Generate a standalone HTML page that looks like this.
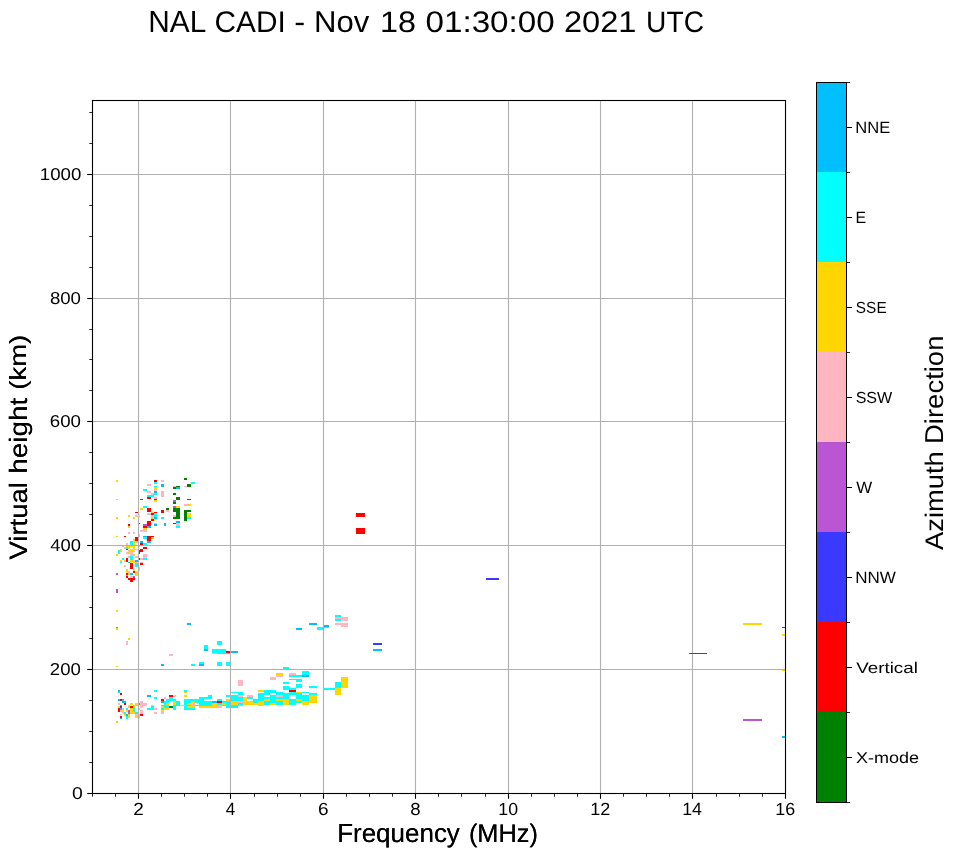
<!DOCTYPE html>
<html><head><meta charset="utf-8"><style>
html,body{margin:0;padding:0;background:#fff;}
svg{display:block;}
text{font-family:"Liberation Sans",sans-serif;fill:#000;text-rendering:geometricPrecision;}
svg{will-change:transform;}
.tk{font-size:16px;}
</style></head><body>
<svg width="958" height="857" viewBox="0 0 958 857" shape-rendering="crispEdges">
<rect width="958" height="857" fill="#fff"/>
<text transform="translate(148.27,32.37) scale(0.9775,1.0031)" font-size="30.5">NAL</text>
<text transform="translate(214.56,32.10) scale(0.9777,0.9767)" font-size="30.5">CADI</text>
<text transform="translate(294.33,32.17) scale(1.0797,0.9936)" font-size="30.5">-</text>
<text transform="translate(314.03,31.98) scale(1.0199,0.9879)" font-size="30.5">Nov</text>
<text transform="translate(379.90,31.64) scale(1.0603,0.9701)" font-size="30.5">18</text>
<text transform="translate(425.47,31.95) scale(1.0889,0.9760)" font-size="30.5">01:30:00</text>
<text transform="translate(563.91,31.78) scale(1.0685,0.9790)" font-size="30.5">2021</text>
<text transform="translate(646.11,32.10) scale(0.9242,0.9720)" font-size="30.5">UTC</text>
<g shape-rendering="auto">
<line x1="138.50" y1="100.5" x2="138.50" y2="793.5" stroke="#b0b0b0" stroke-width="1.1"/>
<line x1="230.50" y1="100.5" x2="230.50" y2="793.5" stroke="#b0b0b0" stroke-width="1.1"/>
<line x1="323.50" y1="100.5" x2="323.50" y2="793.5" stroke="#b0b0b0" stroke-width="1.1"/>
<line x1="415.50" y1="100.5" x2="415.50" y2="793.5" stroke="#b0b0b0" stroke-width="1.1"/>
<line x1="508.50" y1="100.5" x2="508.50" y2="793.5" stroke="#b0b0b0" stroke-width="1.1"/>
<line x1="600.50" y1="100.5" x2="600.50" y2="793.5" stroke="#b0b0b0" stroke-width="1.1"/>
<line x1="692.50" y1="100.5" x2="692.50" y2="793.5" stroke="#b0b0b0" stroke-width="1.1"/>
<line x1="92.5" y1="669.50" x2="785.5" y2="669.50" stroke="#b0b0b0" stroke-width="1.1"/>
<line x1="92.5" y1="545.50" x2="785.5" y2="545.50" stroke="#b0b0b0" stroke-width="1.1"/>
<line x1="92.5" y1="421.50" x2="785.5" y2="421.50" stroke="#b0b0b0" stroke-width="1.1"/>
<line x1="92.5" y1="298.50" x2="785.5" y2="298.50" stroke="#b0b0b0" stroke-width="1.1"/>
<line x1="92.5" y1="174.50" x2="785.5" y2="174.50" stroke="#b0b0b0" stroke-width="1.1"/>
</g>
<g>
<rect x="116" y="480" width="2" height="2" fill="#FFD700"/>
<rect x="116" y="499" width="2" height="1" fill="#FFD700"/>
<rect x="116" y="517" width="2" height="2" fill="#FFD700"/>
<rect x="147" y="484" width="4" height="2" fill="#FFB6C1"/>
<rect x="143" y="489" width="4" height="2" fill="#00FFFF"/>
<rect x="147" y="491" width="4" height="2" fill="#FFB6C1"/>
<rect x="151" y="493" width="3" height="2" fill="#FFB6C1"/>
<rect x="147" y="495" width="7" height="2" fill="#00FFFF"/>
<rect x="147" y="497" width="4" height="2" fill="#FF0000"/>
<rect x="140" y="499" width="3" height="1" fill="#FF0000"/>
<rect x="143" y="506" width="4" height="2" fill="#00FFFF"/>
<rect x="140" y="508" width="3" height="2" fill="#FFD700"/>
<rect x="147" y="508" width="4" height="4" fill="#FF0000"/>
<rect x="135" y="512" width="3" height="1" fill="#FF0000"/>
<rect x="147" y="513" width="4" height="2" fill="#FFB6C1"/>
<rect x="128" y="515" width="2" height="2" fill="#FFD700"/>
<rect x="135" y="515" width="5" height="2" fill="#FFB6C1"/>
<rect x="133" y="517" width="2" height="2" fill="#FFD700"/>
<rect x="150" y="491" width="1" height="2" fill="#FFB6C1"/>
<rect x="150" y="497" width="1" height="2" fill="#FF0000"/>
<rect x="150" y="508" width="1" height="4" fill="#FF0000"/>
<rect x="151" y="512" width="3" height="1" fill="#FFD700"/>
<rect x="151" y="513" width="3" height="2" fill="#FF0000"/>
<rect x="151" y="515" width="3" height="2" fill="#FFB6C1"/>
<rect x="151" y="517" width="3" height="2" fill="#FFD700"/>
<rect x="151" y="519" width="3" height="1" fill="#FF0000"/>
<rect x="154" y="480" width="3" height="2" fill="#FF0000"/>
<rect x="154" y="482" width="3" height="2" fill="#00FFFF"/>
<rect x="154" y="486" width="3" height="1" fill="#00FFFF"/>
<rect x="154" y="487" width="3" height="2" fill="#FFD700"/>
<rect x="154" y="489" width="3" height="2" fill="#FFB6C1"/>
<rect x="154" y="491" width="3" height="2" fill="#00BFFF"/>
<rect x="154" y="493" width="3" height="2" fill="#00FFFF"/>
<rect x="154" y="497" width="3" height="2" fill="#FFB6C1"/>
<rect x="154" y="499" width="3" height="1" fill="#FF0000"/>
<rect x="154" y="500" width="3" height="2" fill="#FFD700"/>
<rect x="154" y="512" width="3" height="1" fill="#FF0000"/>
<rect x="154" y="513" width="3" height="4" fill="#00FFFF"/>
<rect x="154" y="517" width="3" height="2" fill="#00BFFF"/>
<rect x="154" y="519" width="3" height="1" fill="#FFD700"/>
<rect x="161" y="480" width="3" height="2" fill="#FFB6C1"/>
<rect x="161" y="484" width="3" height="3" fill="#00BFFF"/>
<rect x="161" y="491" width="3" height="6" fill="#FFB6C1"/>
<rect x="161" y="510" width="3" height="3" fill="#FF0000"/>
<rect x="161" y="517" width="3" height="2" fill="#00FFFF"/>
<rect x="166" y="508" width="3" height="2" fill="#008000"/>
<rect x="166" y="510" width="3" height="2" fill="#FFB6C1"/>
<rect x="173" y="486" width="3" height="1" fill="#FFB6C1"/>
<rect x="173" y="487" width="3" height="2" fill="#008000"/>
<rect x="173" y="493" width="3" height="2" fill="#008000"/>
<rect x="173" y="500" width="3" height="2" fill="#BA55D3"/>
<rect x="173" y="502" width="3" height="2" fill="#008000"/>
<rect x="173" y="506" width="3" height="2" fill="#BA55D3"/>
<rect x="173" y="508" width="3" height="4" fill="#008000"/>
<rect x="173" y="515" width="3" height="2" fill="#FFB6C1"/>
<rect x="173" y="517" width="3" height="2" fill="#008000"/>
<rect x="176" y="486" width="4" height="1" fill="#008000"/>
<rect x="176" y="487" width="4" height="2" fill="#00BFFF"/>
<rect x="176" y="497" width="4" height="3" fill="#008000"/>
<rect x="176" y="506" width="4" height="2" fill="#FFD700"/>
<rect x="176" y="508" width="4" height="11" fill="#008000"/>
<rect x="184" y="478" width="3" height="2" fill="#008000"/>
<rect x="184" y="486" width="3" height="1" fill="#FFB6C1"/>
<rect x="184" y="504" width="3" height="2" fill="#FFB6C1"/>
<rect x="184" y="510" width="3" height="11" fill="#008000"/>
<rect x="187" y="484" width="4" height="3" fill="#008000"/>
<rect x="187" y="499" width="4" height="1" fill="#008000"/>
<rect x="187" y="504" width="4" height="2" fill="#FFD700"/>
<rect x="187" y="510" width="4" height="2" fill="#008000"/>
<rect x="187" y="513" width="4" height="4" fill="#FFD700"/>
<rect x="187" y="517" width="4" height="2" fill="#00FFFF"/>
<rect x="191" y="482" width="4" height="2" fill="#00FFFF"/>
<rect x="128" y="524" width="2" height="2" fill="#FF0000"/>
<rect x="128" y="526" width="2" height="2" fill="#FFD700"/>
<rect x="128" y="532" width="2" height="2" fill="#FFB6C1"/>
<rect x="116" y="536" width="2" height="1" fill="#FFD700"/>
<rect x="133" y="532" width="2" height="2" fill="#FFB6C1"/>
<rect x="124" y="536" width="2" height="1" fill="#FF0000"/>
<rect x="135" y="537" width="3" height="4" fill="#FF0000"/>
<rect x="135" y="541" width="3" height="2" fill="#FFB6C1"/>
<rect x="133" y="539" width="2" height="6" fill="#FFD700"/>
<rect x="130" y="541" width="3" height="4" fill="#00FFFF"/>
<rect x="126" y="543" width="2" height="2" fill="#FFB6C1"/>
<rect x="124" y="547" width="2" height="2" fill="#FFB6C1"/>
<rect x="122" y="546" width="2" height="1" fill="#FFB6C1"/>
<rect x="126" y="546" width="9" height="1" fill="#FFD700"/>
<rect x="126" y="547" width="2" height="2" fill="#00FFFF"/>
<rect x="128" y="547" width="2" height="2" fill="#FFD700"/>
<rect x="130" y="546" width="3" height="1" fill="#FFD700"/>
<rect x="133" y="546" width="2" height="3" fill="#FFD700"/>
<rect x="126" y="549" width="2" height="1" fill="#FF0000"/>
<rect x="128" y="550" width="2" height="2" fill="#FFB6C1"/>
<rect x="130" y="550" width="3" height="2" fill="#FFD700"/>
<rect x="133" y="550" width="2" height="2" fill="#FFB6C1"/>
<rect x="126" y="552" width="2" height="2" fill="#FFB6C1"/>
<rect x="128" y="552" width="2" height="2" fill="#FFD700"/>
<rect x="130" y="552" width="3" height="4" fill="#FFB6C1"/>
<rect x="133" y="554" width="2" height="2" fill="#FFD700"/>
<rect x="118" y="550" width="2" height="4" fill="#00FFFF"/>
<rect x="120" y="549" width="2" height="3" fill="#FFD700"/>
<rect x="116" y="554" width="2" height="2" fill="#FFD700"/>
<rect x="128" y="556" width="2" height="2" fill="#FFB6C1"/>
<rect x="130" y="556" width="3" height="4" fill="#00FFFF"/>
<rect x="135" y="556" width="3" height="2" fill="#FFB6C1"/>
<rect x="126" y="558" width="2" height="4" fill="#FF0000"/>
<rect x="122" y="558" width="2" height="2" fill="#00FFFF"/>
<rect x="124" y="560" width="2" height="2" fill="#FFD700"/>
<rect x="120" y="560" width="2" height="2" fill="#FFD700"/>
<rect x="120" y="562" width="2" height="1" fill="#00FFFF"/>
<rect x="128" y="562" width="2" height="1" fill="#00BFFF"/>
<rect x="130" y="560" width="3" height="3" fill="#FFD700"/>
<rect x="133" y="560" width="2" height="2" fill="#FFB6C1"/>
<rect x="135" y="560" width="3" height="2" fill="#00BFFF"/>
<rect x="135" y="563" width="3" height="4" fill="#00FFFF"/>
<rect x="130" y="563" width="3" height="6" fill="#FF0000"/>
<rect x="139" y="523" width="1" height="1" fill="#FF0000"/>
<rect x="139" y="534" width="1" height="2" fill="#FFB6C1"/>
<rect x="139" y="536" width="1" height="1" fill="#FFD700"/>
<rect x="139" y="546" width="1" height="1" fill="#FFD700"/>
<rect x="140" y="549" width="3" height="3" fill="#FF0000"/>
<rect x="139" y="550" width="1" height="4" fill="#FF0000"/>
<rect x="130" y="549" width="8" height="1" fill="#FFB6C1"/>
<rect x="139" y="558" width="1" height="2" fill="#FF0000"/>
<rect x="140" y="530" width="7" height="2" fill="#FFB6C1"/>
<rect x="140" y="541" width="3" height="2" fill="#00BFFF"/>
<rect x="140" y="543" width="3" height="2" fill="#FF0000"/>
<rect x="140" y="563" width="3" height="2" fill="#FF0000"/>
<rect x="140" y="558" width="3" height="2" fill="#FFB6C1"/>
<rect x="143" y="524" width="4" height="2" fill="#BA55D3"/>
<rect x="143" y="526" width="4" height="2" fill="#FF0000"/>
<rect x="143" y="528" width="4" height="2" fill="#FFD700"/>
<rect x="143" y="536" width="4" height="1" fill="#00BFFF"/>
<rect x="143" y="537" width="4" height="2" fill="#00FFFF"/>
<rect x="143" y="543" width="4" height="2" fill="#00FFFF"/>
<rect x="143" y="547" width="4" height="2" fill="#FF0000"/>
<rect x="143" y="554" width="4" height="4" fill="#FFB6C1"/>
<rect x="143" y="558" width="4" height="2" fill="#00FFFF"/>
<rect x="147" y="521" width="4" height="5" fill="#FF0000"/>
<rect x="147" y="526" width="4" height="2" fill="#00BFFF"/>
<rect x="147" y="536" width="4" height="5" fill="#FF0000"/>
<rect x="147" y="541" width="4" height="2" fill="#00BFFF"/>
<rect x="151" y="519" width="3" height="2" fill="#FF0000"/>
<rect x="151" y="536" width="3" height="1" fill="#FF0000"/>
<rect x="151" y="537" width="3" height="2" fill="#FFD700"/>
<rect x="154" y="519" width="1" height="2" fill="#FFD700"/>
<rect x="154" y="524" width="1" height="2" fill="#00BFFF"/>
<rect x="154" y="523" width="3" height="1" fill="#FFD700"/>
<rect x="154" y="524" width="3" height="2" fill="#00BFFF"/>
<rect x="164" y="523" width="2" height="3" fill="#00BFFF"/>
<rect x="173" y="523" width="3" height="1" fill="#008000"/>
<rect x="176" y="521" width="4" height="2" fill="#00BFFF"/>
<rect x="176" y="523" width="4" height="3" fill="#FFB6C1"/>
<rect x="176" y="526" width="4" height="2" fill="#00FFFF"/>
<rect x="124" y="565" width="2" height="2" fill="#FFB6C1"/>
<rect x="126" y="569" width="2" height="4" fill="#FFD700"/>
<rect x="126" y="573" width="2" height="2" fill="#FF0000"/>
<rect x="126" y="575" width="2" height="1" fill="#00FFFF"/>
<rect x="126" y="576" width="2" height="2" fill="#FF0000"/>
<rect x="128" y="571" width="2" height="2" fill="#FFB6C1"/>
<rect x="128" y="573" width="2" height="2" fill="#FFD700"/>
<rect x="128" y="578" width="2" height="2" fill="#FF0000"/>
<rect x="130" y="573" width="3" height="2" fill="#00BFFF"/>
<rect x="130" y="576" width="3" height="2" fill="#FFB6C1"/>
<rect x="130" y="578" width="3" height="4" fill="#FF0000"/>
<rect x="133" y="562" width="2" height="1" fill="#FFD700"/>
<rect x="133" y="569" width="2" height="2" fill="#FFD700"/>
<rect x="133" y="571" width="2" height="2" fill="#FF0000"/>
<rect x="133" y="576" width="2" height="2" fill="#BA55D3"/>
<rect x="133" y="578" width="2" height="2" fill="#FF0000"/>
<rect x="135" y="562" width="3" height="1" fill="#FFB6C1"/>
<rect x="135" y="571" width="3" height="4" fill="#FFD700"/>
<rect x="135" y="575" width="3" height="1" fill="#FFB6C1"/>
<rect x="139" y="567" width="1" height="2" fill="#FFD700"/>
<rect x="139" y="569" width="1" height="2" fill="#FFB6C1"/>
<rect x="140" y="562" width="3" height="1" fill="#FFB6C1"/>
<rect x="116" y="573" width="2" height="2" fill="#BA55D3"/>
<rect x="116" y="589" width="2" height="4" fill="#BA55D3"/>
<rect x="118" y="690" width="2" height="2" fill="#00BFFF"/>
<rect x="118" y="692" width="2" height="1" fill="#00FFFF"/>
<rect x="118" y="699" width="2" height="2" fill="#00BFFF"/>
<rect x="118" y="703" width="2" height="2" fill="#FFB6C1"/>
<rect x="118" y="706" width="2" height="2" fill="#FFD700"/>
<rect x="118" y="708" width="2" height="4" fill="#FF0000"/>
<rect x="120" y="693" width="2" height="2" fill="#FF0000"/>
<rect x="120" y="699" width="2" height="2" fill="#FF0000"/>
<rect x="120" y="705" width="2" height="1" fill="#00BFFF"/>
<rect x="120" y="706" width="2" height="2" fill="#3A3AFF"/>
<rect x="120" y="708" width="2" height="2" fill="#00BFFF"/>
<rect x="120" y="710" width="2" height="2" fill="#FFB6C1"/>
<rect x="120" y="714" width="2" height="1" fill="#FFB6C1"/>
<rect x="120" y="716" width="2" height="2" fill="#FF0000"/>
<rect x="120" y="718" width="2" height="1" fill="#00BFFF"/>
<rect x="122" y="699" width="2" height="4" fill="#00BFFF"/>
<rect x="122" y="708" width="2" height="2" fill="#FFB6C1"/>
<rect x="122" y="710" width="2" height="2" fill="#FFD700"/>
<rect x="122" y="712" width="2" height="2" fill="#FFB6C1"/>
<rect x="124" y="701" width="2" height="2" fill="#00BFFF"/>
<rect x="124" y="703" width="2" height="2" fill="#FF0000"/>
<rect x="124" y="712" width="2" height="2" fill="#00FFFF"/>
<rect x="124" y="714" width="2" height="2" fill="#FFD700"/>
<rect x="126" y="708" width="2" height="2" fill="#00FFFF"/>
<rect x="126" y="710" width="2" height="2" fill="#FFD700"/>
<rect x="126" y="714" width="2" height="2" fill="#00BFFF"/>
<rect x="126" y="716" width="2" height="3" fill="#00FFFF"/>
<rect x="128" y="705" width="2" height="3" fill="#FFD700"/>
<rect x="128" y="710" width="2" height="4" fill="#BA55D3"/>
<rect x="128" y="714" width="2" height="4" fill="#FFD700"/>
<rect x="130" y="703" width="3" height="2" fill="#FFD700"/>
<rect x="130" y="706" width="3" height="2" fill="#FF0000"/>
<rect x="130" y="708" width="3" height="6" fill="#FFD700"/>
<rect x="133" y="705" width="2" height="3" fill="#FFD700"/>
<rect x="133" y="708" width="2" height="4" fill="#00FFFF"/>
<rect x="133" y="712" width="2" height="2" fill="#FFD700"/>
<rect x="135" y="703" width="3" height="3" fill="#FFD700"/>
<rect x="135" y="712" width="3" height="2" fill="#00FFFF"/>
<rect x="135" y="714" width="3" height="2" fill="#FFB6C1"/>
<rect x="135" y="716" width="3" height="2" fill="#FFD700"/>
<rect x="139" y="703" width="1" height="2" fill="#00BFFF"/>
<rect x="139" y="708" width="1" height="2" fill="#FFB6C1"/>
<rect x="139" y="714" width="1" height="5" fill="#FFD700"/>
<rect x="140" y="701" width="3" height="7" fill="#FFB6C1"/>
<rect x="140" y="710" width="3" height="4" fill="#FFB6C1"/>
<rect x="140" y="714" width="3" height="2" fill="#FF0000"/>
<rect x="143" y="703" width="4" height="3" fill="#FFB6C1"/>
<rect x="147" y="695" width="4" height="2" fill="#00BFFF"/>
<rect x="147" y="708" width="4" height="2" fill="#00FFFF"/>
<rect x="151" y="705" width="3" height="1" fill="#FFD700"/>
<rect x="151" y="706" width="3" height="4" fill="#00FFFF"/>
<rect x="116" y="721" width="2" height="2" fill="#FFD700"/>
<rect x="154" y="690" width="3" height="2" fill="#00FFFF"/>
<rect x="154" y="697" width="3" height="2" fill="#00FFFF"/>
<rect x="154" y="708" width="3" height="2" fill="#FFB6C1"/>
<rect x="154" y="712" width="3" height="2" fill="#FFB6C1"/>
<rect x="161" y="699" width="3" height="2" fill="#FF0000"/>
<rect x="161" y="701" width="3" height="2" fill="#00BFFF"/>
<rect x="161" y="705" width="3" height="1" fill="#00FFFF"/>
<rect x="161" y="706" width="3" height="2" fill="#FFD700"/>
<rect x="161" y="708" width="3" height="2" fill="#00FFFF"/>
<rect x="161" y="710" width="3" height="2" fill="#FFD700"/>
<rect x="161" y="712" width="3" height="2" fill="#FFB6C1"/>
<rect x="164" y="697" width="2" height="2" fill="#FFB6C1"/>
<rect x="164" y="701" width="2" height="7" fill="#00FFFF"/>
<rect x="164" y="708" width="2" height="2" fill="#FFD700"/>
<rect x="166" y="699" width="3" height="4" fill="#00FFFF"/>
<rect x="166" y="703" width="3" height="2" fill="#FFD700"/>
<rect x="166" y="705" width="3" height="3" fill="#00FFFF"/>
<rect x="166" y="708" width="3" height="2" fill="#FFD700"/>
<rect x="169" y="695" width="4" height="2" fill="#FF0000"/>
<rect x="169" y="697" width="4" height="4" fill="#00FFFF"/>
<rect x="169" y="706" width="4" height="2" fill="#008000"/>
<rect x="173" y="695" width="3" height="2" fill="#FFB6C1"/>
<rect x="173" y="699" width="3" height="2" fill="#00FFFF"/>
<rect x="173" y="701" width="3" height="4" fill="#FFD700"/>
<rect x="173" y="705" width="3" height="5" fill="#00FFFF"/>
<rect x="176" y="701" width="4" height="5" fill="#00FFFF"/>
<rect x="180" y="705" width="4" height="1" fill="#FFD700"/>
<rect x="184" y="690" width="3" height="2" fill="#00FFFF"/>
<rect x="184" y="692" width="3" height="1" fill="#FFD700"/>
<rect x="184" y="695" width="3" height="2" fill="#FFD700"/>
<rect x="184" y="699" width="3" height="11" fill="#00FFFF"/>
<rect x="184" y="705" width="3" height="1" fill="#FFD700"/>
<rect x="187" y="699" width="4" height="4" fill="#00FFFF"/>
<rect x="187" y="703" width="4" height="2" fill="#FFD700"/>
<rect x="187" y="705" width="4" height="1" fill="#00FFFF"/>
<rect x="187" y="706" width="4" height="2" fill="#FFD700"/>
<rect x="187" y="708" width="4" height="2" fill="#00FFFF"/>
<rect x="191" y="699" width="4" height="2" fill="#00FFFF"/>
<rect x="191" y="701" width="4" height="2" fill="#FFD700"/>
<rect x="191" y="703" width="4" height="2" fill="#FFB6C1"/>
<rect x="191" y="705" width="4" height="3" fill="#FFD700"/>
<rect x="191" y="708" width="4" height="2" fill="#00FFFF"/>
<rect x="195" y="699" width="4" height="4" fill="#00FFFF"/>
<rect x="195" y="705" width="4" height="1" fill="#00FFFF"/>
<rect x="199" y="697" width="2" height="9" fill="#00FFFF"/>
<rect x="199" y="706" width="2" height="2" fill="#FFD700"/>
<rect x="195" y="699" width="4" height="4" fill="#00FFFF"/>
<rect x="195" y="705" width="4" height="1" fill="#00FFFF"/>
<rect x="199" y="697" width="5" height="9" fill="#00FFFF"/>
<rect x="199" y="706" width="5" height="2" fill="#FFD700"/>
<rect x="204" y="697" width="4" height="2" fill="#00FFFF"/>
<rect x="204" y="701" width="4" height="5" fill="#00FFFF"/>
<rect x="204" y="706" width="4" height="2" fill="#FFD700"/>
<rect x="208" y="695" width="4" height="4" fill="#00FFFF"/>
<rect x="208" y="701" width="4" height="5" fill="#00FFFF"/>
<rect x="208" y="706" width="4" height="2" fill="#FFD700"/>
<rect x="212" y="701" width="5" height="2" fill="#00BFFF"/>
<rect x="212" y="703" width="5" height="5" fill="#FFD700"/>
<rect x="217" y="699" width="5" height="2" fill="#00FFFF"/>
<rect x="217" y="701" width="5" height="2" fill="#FF0000"/>
<rect x="217" y="703" width="5" height="2" fill="#00FFFF"/>
<rect x="217" y="705" width="5" height="1" fill="#FFD700"/>
<rect x="217" y="706" width="5" height="2" fill="#FFB6C1"/>
<rect x="222" y="701" width="4" height="2" fill="#00FFFF"/>
<rect x="222" y="703" width="4" height="2" fill="#FFD700"/>
<rect x="222" y="705" width="4" height="1" fill="#00FFFF"/>
<rect x="226" y="695" width="4" height="2" fill="#00FFFF"/>
<rect x="226" y="699" width="4" height="2" fill="#FFD700"/>
<rect x="226" y="701" width="4" height="7" fill="#00FFFF"/>
<rect x="231" y="692" width="7" height="1" fill="#00FFFF"/>
<rect x="231" y="695" width="7" height="6" fill="#00FFFF"/>
<rect x="231" y="701" width="7" height="4" fill="#FFD700"/>
<rect x="231" y="705" width="7" height="3" fill="#00FFFF"/>
<rect x="238" y="680" width="5" height="6" fill="#FFB6C1"/>
<rect x="238" y="692" width="5" height="3" fill="#00FFFF"/>
<rect x="238" y="695" width="5" height="2" fill="#FFB6C1"/>
<rect x="238" y="697" width="5" height="4" fill="#00FFFF"/>
<rect x="238" y="701" width="5" height="2" fill="#FFB6C1"/>
<rect x="238" y="703" width="5" height="2" fill="#00FFFF"/>
<rect x="238" y="705" width="5" height="1" fill="#FFD700"/>
<rect x="243" y="697" width="2" height="8" fill="#FFD700"/>
<rect x="243" y="697" width="4" height="8" fill="#FFD700"/>
<rect x="247" y="695" width="6" height="2" fill="#FFB6C1"/>
<rect x="247" y="697" width="6" height="2" fill="#00FFFF"/>
<rect x="247" y="701" width="6" height="4" fill="#FFD700"/>
<rect x="253" y="699" width="5" height="4" fill="#00FFFF"/>
<rect x="253" y="703" width="5" height="2" fill="#FFD700"/>
<rect x="258" y="690" width="6" height="2" fill="#FFD700"/>
<rect x="258" y="693" width="6" height="8" fill="#00FFFF"/>
<rect x="258" y="701" width="6" height="5" fill="#FFD700"/>
<rect x="264" y="690" width="6" height="5" fill="#00FFFF"/>
<rect x="264" y="697" width="6" height="2" fill="#00FFFF"/>
<rect x="264" y="699" width="6" height="2" fill="#FFD700"/>
<rect x="264" y="701" width="6" height="4" fill="#00FFFF"/>
<rect x="270" y="677" width="6" height="3" fill="#FFB6C1"/>
<rect x="270" y="690" width="6" height="3" fill="#00FFFF"/>
<rect x="270" y="695" width="6" height="8" fill="#00FFFF"/>
<rect x="270" y="703" width="6" height="2" fill="#FFD700"/>
<rect x="276" y="673" width="7" height="2" fill="#FFD700"/>
<rect x="276" y="675" width="7" height="2" fill="#FFB6C1"/>
<rect x="276" y="692" width="7" height="3" fill="#00FFFF"/>
<rect x="276" y="695" width="7" height="2" fill="#FFB6C1"/>
<rect x="276" y="697" width="7" height="2" fill="#00FFFF"/>
<rect x="276" y="699" width="7" height="2" fill="#FFD700"/>
<rect x="276" y="701" width="7" height="4" fill="#00FFFF"/>
<rect x="283" y="667" width="6" height="2" fill="#00FFFF"/>
<rect x="283" y="682" width="6" height="2" fill="#00FFFF"/>
<rect x="283" y="686" width="6" height="4" fill="#00FFFF"/>
<rect x="283" y="693" width="6" height="6" fill="#00FFFF"/>
<rect x="283" y="699" width="6" height="6" fill="#FFD700"/>
<rect x="289" y="673" width="7" height="2" fill="#FFB6C1"/>
<rect x="289" y="675" width="7" height="2" fill="#00FFFF"/>
<rect x="289" y="679" width="7" height="1" fill="#00FFFF"/>
<rect x="289" y="688" width="7" height="2" fill="#00FFFF"/>
<rect x="289" y="690" width="7" height="2" fill="#FF0000"/>
<rect x="289" y="692" width="7" height="3" fill="#00FFFF"/>
<rect x="289" y="699" width="7" height="6" fill="#00FFFF"/>
<rect x="296" y="675" width="6" height="2" fill="#00FFFF"/>
<rect x="296" y="679" width="6" height="3" fill="#00FFFF"/>
<rect x="296" y="684" width="6" height="4" fill="#00FFFF"/>
<rect x="296" y="692" width="6" height="1" fill="#FFD700"/>
<rect x="296" y="693" width="6" height="6" fill="#00FFFF"/>
<rect x="296" y="699" width="6" height="2" fill="#FFD700"/>
<rect x="296" y="701" width="6" height="2" fill="#00FFFF"/>
<rect x="302" y="671" width="7" height="4" fill="#00FFFF"/>
<rect x="302" y="675" width="7" height="2" fill="#00BFFF"/>
<rect x="302" y="692" width="7" height="1" fill="#00FFFF"/>
<rect x="302" y="695" width="7" height="6" fill="#00FFFF"/>
<rect x="302" y="701" width="7" height="4" fill="#FFD700"/>
<rect x="309" y="686" width="8" height="2" fill="#00FFFF"/>
<rect x="309" y="693" width="8" height="2" fill="#00FFFF"/>
<rect x="309" y="695" width="8" height="8" fill="#FFD700"/>
<rect x="324" y="688" width="11" height="2" fill="#00FFFF"/>
<rect x="335" y="682" width="6" height="6" fill="#00FFFF"/>
<rect x="335" y="688" width="6" height="7" fill="#FFD700"/>
<rect x="341" y="677" width="7" height="11" fill="#FFD700"/>
<rect x="217" y="641" width="5" height="4" fill="#00FFFF"/>
<rect x="204" y="645" width="4" height="4" fill="#00FFFF"/>
<rect x="204" y="649" width="4" height="2" fill="#00BFFF"/>
<rect x="212" y="649" width="14" height="4" fill="#00FFFF"/>
<rect x="217" y="653" width="13" height="1" fill="#00FFFF"/>
<rect x="212" y="653" width="5" height="1" fill="#FFB6C1"/>
<rect x="226" y="651" width="4" height="2" fill="#FF0000"/>
<rect x="231" y="651" width="7" height="2" fill="#00BFFF"/>
<rect x="199" y="662" width="5" height="2" fill="#00FFFF"/>
<rect x="199" y="664" width="5" height="2" fill="#00BFFF"/>
<rect x="217" y="662" width="5" height="4" fill="#00FFFF"/>
<rect x="226" y="662" width="4" height="4" fill="#00FFFF"/>
<rect x="116" y="610" width="2" height="2" fill="#FFD700"/>
<rect x="116" y="627" width="2" height="1" fill="#BA55D3"/>
<rect x="116" y="628" width="2" height="2" fill="#FFD700"/>
<rect x="128" y="638" width="2" height="2" fill="#FFD700"/>
<rect x="126" y="641" width="2" height="4" fill="#FFB6C1"/>
<rect x="116" y="666" width="2" height="1" fill="#FFD700"/>
<rect x="187" y="623" width="4" height="2" fill="#00BFFF"/>
<rect x="169" y="654" width="4" height="2" fill="#FFB6C1"/>
<rect x="161" y="664" width="3" height="2" fill="#00BFFF"/>
<rect x="191" y="664" width="4" height="2" fill="#00FFFF"/>
<rect x="296" y="628" width="6" height="2" fill="#00BFFF"/>
<rect x="309" y="623" width="8" height="2" fill="#00BFFF"/>
<rect x="317" y="627" width="6" height="3" fill="#00FFFF"/>
<rect x="324" y="625" width="5" height="2" fill="#00BFFF"/>
<rect x="324" y="627" width="5" height="1" fill="#00FFFF"/>
<rect x="335" y="615" width="6" height="2" fill="#00FFFF"/>
<rect x="335" y="617" width="13" height="2" fill="#FFB6C1"/>
<rect x="341" y="619" width="7" height="2" fill="#FFB6C1"/>
<rect x="335" y="619" width="6" height="2" fill="#00FFFF"/>
<rect x="335" y="623" width="13" height="2" fill="#FFB6C1"/>
<rect x="341" y="625" width="7" height="2" fill="#FFB6C1"/>
<rect x="356" y="513" width="9" height="4" fill="#FF0000"/>
<rect x="356" y="528" width="9" height="6" fill="#FF0000"/>
<rect x="373" y="643" width="9" height="2" fill="#3A3AFF"/>
<rect x="373" y="649" width="9" height="2" fill="#00BFFF"/>
<rect x="486" y="578" width="13" height="2" fill="#3A3AFF"/>
<rect x="689" y="653" width="18" height="1" fill="#FF0000"/>
<rect x="743" y="623" width="19" height="2" fill="#FFD700"/>
<rect x="782" y="627" width="3" height="1" fill="#FF0000"/>
<rect x="782" y="634" width="3" height="2" fill="#FFD700"/>
<rect x="782" y="670" width="3" height="1" fill="#FFD700"/>
<rect x="743" y="719" width="19" height="2" fill="#BA55D3"/>
<rect x="782" y="736" width="3" height="2" fill="#00BFFF"/>
</g>
<g shape-rendering="auto">
<rect x="92.5" y="100.5" width="693.00" height="693.00" fill="none" stroke="#000" stroke-width="1.1"/>
<line x1="138.50" y1="793.5" x2="138.50" y2="798.8" stroke="#000" stroke-width="1.1"/>
<line x1="230.50" y1="793.5" x2="230.50" y2="798.8" stroke="#000" stroke-width="1.1"/>
<line x1="323.50" y1="793.5" x2="323.50" y2="798.8" stroke="#000" stroke-width="1.1"/>
<line x1="415.50" y1="793.5" x2="415.50" y2="798.8" stroke="#000" stroke-width="1.1"/>
<line x1="508.50" y1="793.5" x2="508.50" y2="798.8" stroke="#000" stroke-width="1.1"/>
<line x1="600.50" y1="793.5" x2="600.50" y2="798.8" stroke="#000" stroke-width="1.1"/>
<line x1="692.50" y1="793.5" x2="692.50" y2="798.8" stroke="#000" stroke-width="1.1"/>
<line x1="785.50" y1="793.5" x2="785.50" y2="798.8" stroke="#000" stroke-width="1.1"/>
<line x1="92.50" y1="793.5" x2="92.50" y2="796.7" stroke="#000" stroke-width="0.85"/>
<line x1="115.50" y1="793.5" x2="115.50" y2="796.7" stroke="#000" stroke-width="0.85"/>
<line x1="161.50" y1="793.5" x2="161.50" y2="796.7" stroke="#000" stroke-width="0.85"/>
<line x1="184.50" y1="793.5" x2="184.50" y2="796.7" stroke="#000" stroke-width="0.85"/>
<line x1="207.50" y1="793.5" x2="207.50" y2="796.7" stroke="#000" stroke-width="0.85"/>
<line x1="254.50" y1="793.5" x2="254.50" y2="796.7" stroke="#000" stroke-width="0.85"/>
<line x1="277.50" y1="793.5" x2="277.50" y2="796.7" stroke="#000" stroke-width="0.85"/>
<line x1="300.50" y1="793.5" x2="300.50" y2="796.7" stroke="#000" stroke-width="0.85"/>
<line x1="346.50" y1="793.5" x2="346.50" y2="796.7" stroke="#000" stroke-width="0.85"/>
<line x1="369.50" y1="793.5" x2="369.50" y2="796.7" stroke="#000" stroke-width="0.85"/>
<line x1="392.50" y1="793.5" x2="392.50" y2="796.7" stroke="#000" stroke-width="0.85"/>
<line x1="438.50" y1="793.5" x2="438.50" y2="796.7" stroke="#000" stroke-width="0.85"/>
<line x1="461.50" y1="793.5" x2="461.50" y2="796.7" stroke="#000" stroke-width="0.85"/>
<line x1="485.50" y1="793.5" x2="485.50" y2="796.7" stroke="#000" stroke-width="0.85"/>
<line x1="531.50" y1="793.5" x2="531.50" y2="796.7" stroke="#000" stroke-width="0.85"/>
<line x1="554.50" y1="793.5" x2="554.50" y2="796.7" stroke="#000" stroke-width="0.85"/>
<line x1="577.50" y1="793.5" x2="577.50" y2="796.7" stroke="#000" stroke-width="0.85"/>
<line x1="623.50" y1="793.5" x2="623.50" y2="796.7" stroke="#000" stroke-width="0.85"/>
<line x1="646.50" y1="793.5" x2="646.50" y2="796.7" stroke="#000" stroke-width="0.85"/>
<line x1="669.50" y1="793.5" x2="669.50" y2="796.7" stroke="#000" stroke-width="0.85"/>
<line x1="716.50" y1="793.5" x2="716.50" y2="796.7" stroke="#000" stroke-width="0.85"/>
<line x1="739.50" y1="793.5" x2="739.50" y2="796.7" stroke="#000" stroke-width="0.85"/>
<line x1="762.50" y1="793.5" x2="762.50" y2="796.7" stroke="#000" stroke-width="0.85"/>
<line x1="87.2" y1="793.50" x2="92.5" y2="793.50" stroke="#000" stroke-width="1.1"/>
<line x1="87.2" y1="669.50" x2="92.5" y2="669.50" stroke="#000" stroke-width="1.1"/>
<line x1="87.2" y1="545.50" x2="92.5" y2="545.50" stroke="#000" stroke-width="1.1"/>
<line x1="87.2" y1="421.50" x2="92.5" y2="421.50" stroke="#000" stroke-width="1.1"/>
<line x1="87.2" y1="298.50" x2="92.5" y2="298.50" stroke="#000" stroke-width="1.1"/>
<line x1="87.2" y1="174.50" x2="92.5" y2="174.50" stroke="#000" stroke-width="1.1"/>
<line x1="89.3" y1="762.50" x2="92.5" y2="762.50" stroke="#000" stroke-width="0.85"/>
<line x1="89.3" y1="731.50" x2="92.5" y2="731.50" stroke="#000" stroke-width="0.85"/>
<line x1="89.3" y1="700.50" x2="92.5" y2="700.50" stroke="#000" stroke-width="0.85"/>
<line x1="89.3" y1="638.50" x2="92.5" y2="638.50" stroke="#000" stroke-width="0.85"/>
<line x1="89.3" y1="607.50" x2="92.5" y2="607.50" stroke="#000" stroke-width="0.85"/>
<line x1="89.3" y1="576.50" x2="92.5" y2="576.50" stroke="#000" stroke-width="0.85"/>
<line x1="89.3" y1="514.50" x2="92.5" y2="514.50" stroke="#000" stroke-width="0.85"/>
<line x1="89.3" y1="483.50" x2="92.5" y2="483.50" stroke="#000" stroke-width="0.85"/>
<line x1="89.3" y1="452.50" x2="92.5" y2="452.50" stroke="#000" stroke-width="0.85"/>
<line x1="89.3" y1="390.50" x2="92.5" y2="390.50" stroke="#000" stroke-width="0.85"/>
<line x1="89.3" y1="359.50" x2="92.5" y2="359.50" stroke="#000" stroke-width="0.85"/>
<line x1="89.3" y1="329.50" x2="92.5" y2="329.50" stroke="#000" stroke-width="0.85"/>
<line x1="89.3" y1="267.50" x2="92.5" y2="267.50" stroke="#000" stroke-width="0.85"/>
<line x1="89.3" y1="236.50" x2="92.5" y2="236.50" stroke="#000" stroke-width="0.85"/>
<line x1="89.3" y1="205.50" x2="92.5" y2="205.50" stroke="#000" stroke-width="0.85"/>
<line x1="89.3" y1="143.50" x2="92.5" y2="143.50" stroke="#000" stroke-width="0.85"/>
<line x1="89.3" y1="112.50" x2="92.5" y2="112.50" stroke="#000" stroke-width="0.85"/>
</g>
<text transform="translate(71.97,798.65) scale(1.1638,1.0360)" font-size="16.67">0</text>
<text transform="translate(49.83,674.50) scale(1.1151,1.0311)" font-size="16.67">200</text>
<text transform="translate(50.37,551.01) scale(1.1017,1.0287)" font-size="16.67">400</text>
<text transform="translate(49.75,426.60) scale(1.1223,1.0353)" font-size="16.67">600</text>
<text transform="translate(49.90,303.93) scale(1.1168,1.0370)" font-size="16.67">800</text>
<text transform="translate(39.74,180.04) scale(1.1214,1.0292)" font-size="16.67">1000</text>
<text transform="translate(133.13,815.00) scale(1.1382,1.0632)" font-size="16.67">2</text>
<text transform="translate(225.69,814.52) scale(1.0291,1.0634)" font-size="16.67">4</text>
<text transform="translate(318.10,814.56) scale(1.1394,1.0573)" font-size="16.67">6</text>
<text transform="translate(410.24,814.64) scale(1.1187,1.0500)" font-size="16.67">8</text>
<text transform="translate(498.35,815.24) scale(1.0633,1.0462)" font-size="16.67">10</text>
<text transform="translate(590.18,815.00) scale(1.0839,1.0637)" font-size="16.67">12</text>
<text transform="translate(682.19,815.00) scale(1.0666,1.0746)" font-size="16.67">14</text>
<text transform="translate(775.29,814.74) scale(1.0735,1.0472)" font-size="16.67">16</text>
<text transform="translate(855.30,132.73) scale(1.0467,1.0419)" font-size="15.8">NNE</text>
<text transform="translate(855.40,222.73) scale(1.0056,1.0419)" font-size="15.8">E</text>
<text transform="translate(855.87,312.54) scale(0.9732,1.0162)" font-size="15.8">SSE</text>
<text transform="translate(855.64,402.60) scale(1.0188,1.0149)" font-size="15.8">SSW</text>
<text transform="translate(856.26,493.04) scale(1.0674,1.0464)" font-size="15.8">W</text>
<text transform="translate(855.26,582.97) scale(1.0782,1.0433)" font-size="15.8">NNW</text>
<text transform="translate(856.25,672.79) scale(1.1899,0.9740)" font-size="15.8">Vertical</text>
<text transform="translate(855.94,763.07) scale(1.1412,0.9879)" font-size="15.8">X-mode</text>
<text transform="translate(337.16,842.15) scale(1.0387,1.0419)" font-size="25">Frequency</text>
<text transform="translate(468.89,841.91) scale(1.0164,1.0229)" font-size="25">(MHz)</text>
<text transform="translate(27.31,559.51) scale(1.0071,1.0973) rotate(-90)" font-size="25">Virtual</text>
<text transform="translate(27.33,473.72) scale(1.0062,1.1140) rotate(-90)" font-size="25">height</text>
<text transform="translate(25.94,389.67) scale(0.9376,1.0953) rotate(-90)" font-size="25">(km)</text>
<text transform="translate(337.16,842.15) scale(1.0387,1.0419)" font-size="25">Frequency</text>
<text transform="translate(468.89,841.91) scale(1.0164,1.0229)" font-size="25">(MHz)</text>
<text transform="translate(27.31,559.51) scale(1.0071,1.0973) rotate(-90)" font-size="25">Virtual</text>
<text transform="translate(27.33,473.72) scale(1.0062,1.1140) rotate(-90)" font-size="25">height</text>
<text transform="translate(25.94,389.67) scale(0.9376,1.0953) rotate(-90)" font-size="25">(km)</text>
<text transform="translate(942.90,549.94) scale(1.0162,1.0922) rotate(-90)" font-size="25">Azimuth</text>
<text transform="translate(942.53,443.96) scale(1.0343,1.0986) rotate(-90)" font-size="25">Direction</text>
<rect x="816.5" y="82.00" width="30.00" height="90.00" fill="#00BFFF"/>
<rect x="816.5" y="172.00" width="30.00" height="90.00" fill="#00FFFF"/>
<rect x="816.5" y="262.00" width="30.00" height="90.00" fill="#FFD700"/>
<rect x="816.5" y="352.00" width="30.00" height="90.00" fill="#FFB6C1"/>
<rect x="816.5" y="442.00" width="30.00" height="90.00" fill="#BA55D3"/>
<rect x="816.5" y="532.00" width="30.00" height="90.00" fill="#3A3AFF"/>
<rect x="816.5" y="622.00" width="30.00" height="90.00" fill="#FF0000"/>
<rect x="816.5" y="712.00" width="30.00" height="90.00" fill="#008000"/>
<rect x="816.5" y="82.5" width="30.00" height="720.00" fill="none" stroke="#000" stroke-width="1.1"/>
<line x1="846.5" y1="127.50" x2="851.8" y2="127.50" stroke="#000" stroke-width="1.1"/>
<line x1="846.5" y1="217.50" x2="851.8" y2="217.50" stroke="#000" stroke-width="1.1"/>
<line x1="846.5" y1="307.50" x2="851.8" y2="307.50" stroke="#000" stroke-width="1.1"/>
<line x1="846.5" y1="397.50" x2="851.8" y2="397.50" stroke="#000" stroke-width="1.1"/>
<line x1="846.5" y1="487.50" x2="851.8" y2="487.50" stroke="#000" stroke-width="1.1"/>
<line x1="846.5" y1="577.50" x2="851.8" y2="577.50" stroke="#000" stroke-width="1.1"/>
<line x1="846.5" y1="667.50" x2="851.8" y2="667.50" stroke="#000" stroke-width="1.1"/>
<line x1="846.5" y1="757.50" x2="851.8" y2="757.50" stroke="#000" stroke-width="1.1"/>
<line x1="846.5" y1="82.50" x2="849.7" y2="82.50" stroke="#000" stroke-width="0.85"/>
<line x1="846.5" y1="172.50" x2="849.7" y2="172.50" stroke="#000" stroke-width="0.85"/>
<line x1="846.5" y1="262.50" x2="849.7" y2="262.50" stroke="#000" stroke-width="0.85"/>
<line x1="846.5" y1="352.50" x2="849.7" y2="352.50" stroke="#000" stroke-width="0.85"/>
<line x1="846.5" y1="442.50" x2="849.7" y2="442.50" stroke="#000" stroke-width="0.85"/>
<line x1="846.5" y1="532.50" x2="849.7" y2="532.50" stroke="#000" stroke-width="0.85"/>
<line x1="846.5" y1="622.50" x2="849.7" y2="622.50" stroke="#000" stroke-width="0.85"/>
<line x1="846.5" y1="712.50" x2="849.7" y2="712.50" stroke="#000" stroke-width="0.85"/>
<line x1="846.5" y1="802.50" x2="849.7" y2="802.50" stroke="#000" stroke-width="0.85"/>
</svg>
</body></html>
